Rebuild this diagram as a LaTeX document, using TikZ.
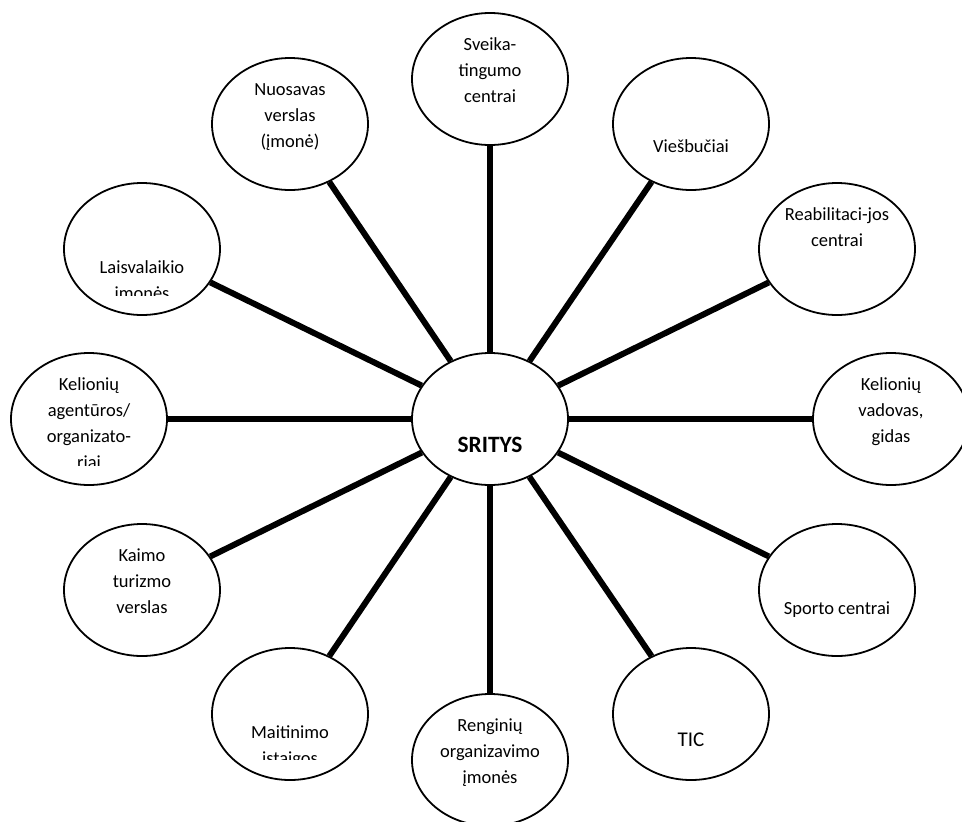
\documentclass[tikz,border=0pt]{standalone}
\usepackage{fontspec}
\setmainfont{Carlito}
\usepackage{tikz}
\usetikzlibrary{shapes.geometric,calc}
\tikzset{
  area/.style ={ellipse,draw=black,line width=0.9pt,minimum width=78pt,
                minimum height=66pt,inner sep=0pt},
  lbl/.style  ={font=\fontsize{9.25}{13}\selectfont,align=center,
                inner sep=0pt,anchor=base},
  hublbl/.style={font=\fontsize{11.7}{14}\selectfont\bfseries,
                inner sep=0pt,anchor=base},
  spoke/.style={draw=black,line width=3pt},
}
\begin{document}
\begin{tikzpicture}[x=0.5pt,y=0.5pt]
\useasboundingbox (-490,419) rectangle (472,-402);
% hub and the twelve areas
\node[area] (sritys) at (0,0) {};
\node[area] (sveika) at (0,340) {};
\node[area] (viesb)  at (201,295) {};
\node[area] (reab)   at (347,170) {};
\node[area] (vadov)  at (401,0) {};
\node[area] (sporto) at (347,-171) {};
\node[area] (tic)    at (201,-295) {};
\node[area] (rengin) at (0,-341) {};
\node[area] (maitin) at (-200,-295) {};
\node[area] (kaimo)  at (-348,-171) {};
\node[area] (agent)  at (-401,0) {};
\node[area] (laisv)  at (-348,170) {};
\node[area] (nuosav) at (-200,295) {};
% texts (base = last line)
\node[hublbl] (sritys-t) at ([yshift=-16.5pt]sritys.center) {SRITYS};
\node[lbl] (sveika-t) at ([yshift=-11.5pt]sveika.center) {Sveika-\\ tingumo\\ centrai};
\node[lbl] (viesb-t)  at ([yshift=-14pt]viesb.center) {Viešbučiai};
\node[lbl] (reab-t)   at ([yshift=1.5pt]reab.center) {Reabilitaci-jos\\ centrai};
\node[lbl] (vadov-t)  at ([yshift=-11.5pt]vadov.center) {Kelionių\\ vadovas,\\ gidas};
\node[lbl] (sporto-t) at ([yshift=-12pt]sporto.center) {Sporto centrai};
\node[lbl,font=\fontsize{10.5}{13}\selectfont] (tic-t) at ([yshift=-16pt]tic.center) {TIC};
\node[lbl] (rengin-t) at ([yshift=-11.5pt]rengin.center) {Renginių\\ organizavimo\\ įmonės};
\node[lbl] (kaimo-t)  at ([yshift=-11.5pt]kaimo.center) {Kaimo\\ turizmo\\ verslas};
\node[lbl] (nuosav-t) at ([yshift=-11.5pt]nuosav.center) {Nuosavas\\ verslas\\ (įmonė)};
% texts that overflow their boxes
\begin{scope}
\clip ([xshift=-39pt,yshift=-22.5pt]maitin.center) rectangle ([xshift=39pt,yshift=33pt]maitin.center);
\node[lbl] (maitin-t) at ([yshift=-25pt]maitin.center) {Maitinimo\\ įstaigos};
\end{scope}
\begin{scope}
\clip ([xshift=-39pt,yshift=-23pt]agent.center) rectangle ([xshift=39pt,yshift=33pt]agent.center);
\node[lbl] (agent-t) at ([yshift=-24.5pt]agent.center) {Kelionių\\ agentūros/\\ organizato-\\ riai};
\end{scope}
\begin{scope}
\clip ([xshift=-39pt,yshift=-23pt]laisv.center) rectangle ([xshift=39pt,yshift=33pt]laisv.center);
\node[lbl] (laisv-t) at ([yshift=-25pt]laisv.center) {Laisvalaikio\\ įmonės};
\end{scope}
% spokes
\draw[spoke] (sritys) -- (sveika);
\draw[spoke] (sritys) -- (viesb);
\draw[spoke] (sritys) -- (reab);
\draw[spoke] (sritys) -- (vadov);
\draw[spoke] (sritys) -- (sporto);
\draw[spoke] (sritys) -- (tic);
\draw[spoke] (sritys) -- (rengin);
\draw[spoke] (sritys) -- (maitin);
\draw[spoke] (sritys) -- (kaimo);
\draw[spoke] (sritys) -- (agent);
\draw[spoke] (sritys) -- (laisv);
\draw[spoke] (sritys) -- (nuosav);
\end{tikzpicture}
\end{document}
